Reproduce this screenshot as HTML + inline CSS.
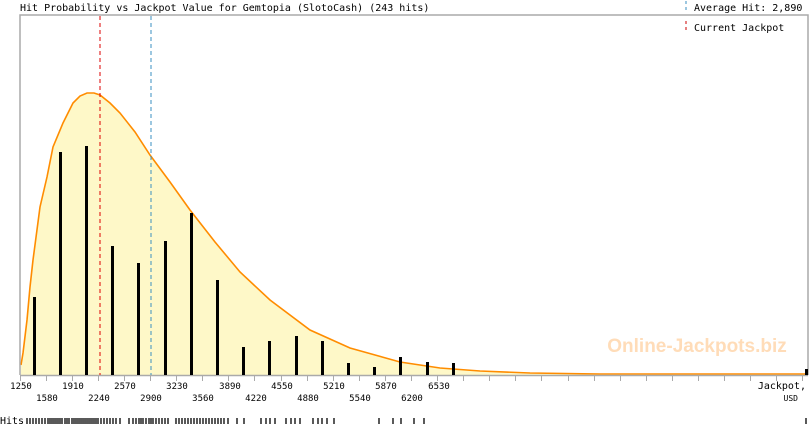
<!DOCTYPE html>
<html><head><meta charset="utf-8"><style>
html,body{margin:0;padding:0;background:#fff;width:810px;height:425px;overflow:hidden}
text{font-family:"DejaVu Sans Mono","Liberation Mono",monospace}
</style></head><body>
<svg width="810" height="425" viewBox="0 0 810 425" xmlns="http://www.w3.org/2000/svg">
<text x="20" y="11" font-size="10" fill="#000">Hit Probability vs Jackpot Value for Gemtopia (SlotoCash) (243 hits)</text>
<line x1="686" y1="1" x2="686" y2="12" stroke="#3a8fc0" stroke-dasharray="3,3"/>
<text x="694" y="11" font-size="10">Average Hit: 2,890</text>
<line x1="686" y1="21" x2="686" y2="33" stroke="#c00" stroke-dasharray="3,3"/>
<text x="694" y="31" font-size="10">Current Jackpot</text>
<path d="M21,375 L21,365 L23,353 L27,320 L30,287 L33,260 L40,207 L47,177 L53,147 L63,123 L73,103 L80,96 L87,93 L94,93 L100,95 L110,103 L120,113 L135,132 L150,155 L170,182 L190,210 L215,242 L240,272 L270,300 L310,330 L350,348 L400,362 L440,368 L480,371 L530,373 L600,374 L808,374 L808,375 Z" fill="#fef8c8" stroke="none"/>
<path d="M21,365 L23,353 L27,320 L30,287 L33,260 L40,207 L47,177 L53,147 L63,123 L73,103 L80,96 L87,93 L94,93 L100,95 L110,103 L120,113 L135,132 L150,155 L170,182 L190,210 L215,242 L240,272 L270,300 L310,330 L350,348 L400,362 L440,368 L480,371 L530,373 L600,374 L808,374" fill="none" stroke="#ff8c00" stroke-width="1.6"/>
<polyline points="20,375 20,15 808,15 808,375" fill="none" stroke="#aaa" stroke-width="1.5"/>
<line x1="20" y1="375.5" x2="808" y2="375.5" stroke="#aaa" stroke-width="1.5"/>
<line x1="100" y1="16" x2="100" y2="375" stroke="#d00" stroke-dasharray="4,3" stroke-width="1"/>
<line x1="151" y1="16" x2="151" y2="375" stroke="#3a8fc0" stroke-dasharray="4,3" stroke-width="1"/>
<g fill="#000">
<rect x="33" y="297" width="3" height="78"/><rect x="59" y="152" width="3" height="223"/><rect x="85" y="146" width="3" height="229"/><rect x="111" y="246" width="3" height="129"/><rect x="137" y="263" width="3" height="112"/><rect x="164" y="241" width="3" height="134"/><rect x="190" y="213" width="3" height="162"/><rect x="216" y="280" width="3" height="95"/><rect x="242" y="347" width="3" height="28"/><rect x="268" y="341" width="3" height="34"/><rect x="295" y="336" width="3" height="39"/><rect x="321" y="341" width="3" height="34"/><rect x="347" y="363" width="3" height="12"/><rect x="373" y="367" width="3" height="8"/><rect x="399" y="357" width="3" height="18"/><rect x="426" y="362" width="3" height="13"/><rect x="452" y="363" width="3" height="12"/><rect x="805" y="369" width="3" height="6"/>
</g>
<g stroke="#aaa" stroke-width="1">
<path d="M20.5,376v5M46.5,376v5M72.5,376v5M98.5,376v5M124.5,376v5M150.5,376v5M176.5,376v5M202.5,376v5M228.5,376v5M254.5,376v5M281.5,376v5M307.5,376v5M333.5,376v5M359.5,376v5M385.5,376v5M411.5,376v5M437.5,376v5M463.5,376v5M489.5,376v5M515.5,376v5M541.5,376v5M568.5,376v5M594.5,376v5M620.5,376v5M646.5,376v5M672.5,376v5M698.5,376v5M724.5,376v5M750.5,376v5M776.5,376v5M802.5,376v5"/>
</g>
<g font-size="9" text-anchor="middle" fill="#000">
<text x="21" y="389">1250</text><text x="73" y="389">1910</text><text x="125" y="389">2570</text><text x="177" y="389">3230</text><text x="230" y="389">3890</text><text x="282" y="389">4550</text><text x="334" y="389">5210</text><text x="386" y="389">5870</text><text x="439" y="389">6530</text>
<text x="47" y="401">1580</text><text x="99" y="401">2240</text><text x="151" y="401">2900</text><text x="203" y="401">3560</text><text x="256" y="401">4220</text><text x="308" y="401">4880</text><text x="360" y="401">5540</text><text x="412" y="401">6200</text>
</g>
<text x="806" y="389" font-size="10" text-anchor="end">Jackpot,</text>
<text x="798" y="401" font-size="8" text-anchor="end">USD</text>
<text x="697" y="352" font-size="19" font-weight="bold" fill="#ffdcb8" text-anchor="middle" style="font-family:'Liberation Sans',sans-serif">Online-Jackpots.biz</text>
<text x="0" y="424" font-size="10">Hits</text>
<g stroke="#000" stroke-width="1.3">
<path d="M27,418v6M30,418v6M33,418v6M36,418v6M39,418v6M42,418v6M45,418v6M48,418v6M50,418v6M52,418v6M54,418v6M56,418v6M58,418v6M60,418v6M62,418v6M65,418v6M67,418v6M69,418v6M72,418v6M74,418v6M76,418v6M78,418v6M80,418v6M82,418v6M84,418v6M86,418v6M88,418v6M90,418v6M92,418v6M94,418v6M96,418v6M98,418v6M101,418v6M104,418v6M107,418v6M110,418v6M113,418v6M116,418v6M120,418v6M129,418v6M133,418v6M136,418v6M139,418v6M141,418v6M143,418v6M146,418v6M149,418v6M151,418v6M153,418v6M156,418v6M159,418v6M162,418v6M165,418v6M168,418v6M176,418v6M179,418v6M182,418v6M185,418v6M188,418v6M191,418v6M194,418v6M197,418v6M200,418v6M203,418v6M206,418v6M209,418v6M212,418v6M215,418v6M218,418v6M221,418v6M224,418v6M228,418v6M237,418v6M244,418v6M261,418v6M266,418v6M270,418v6M275,418v6M286,418v6M291,418v6M295,418v6M300,418v6M313,418v6M318,418v6M322,418v6M327,418v6M334,418v6M379,418v6M393,418v6M401,418v6M414,418v6M424,418v6M806,418v6"/>
</g>
</svg>
</body></html>
